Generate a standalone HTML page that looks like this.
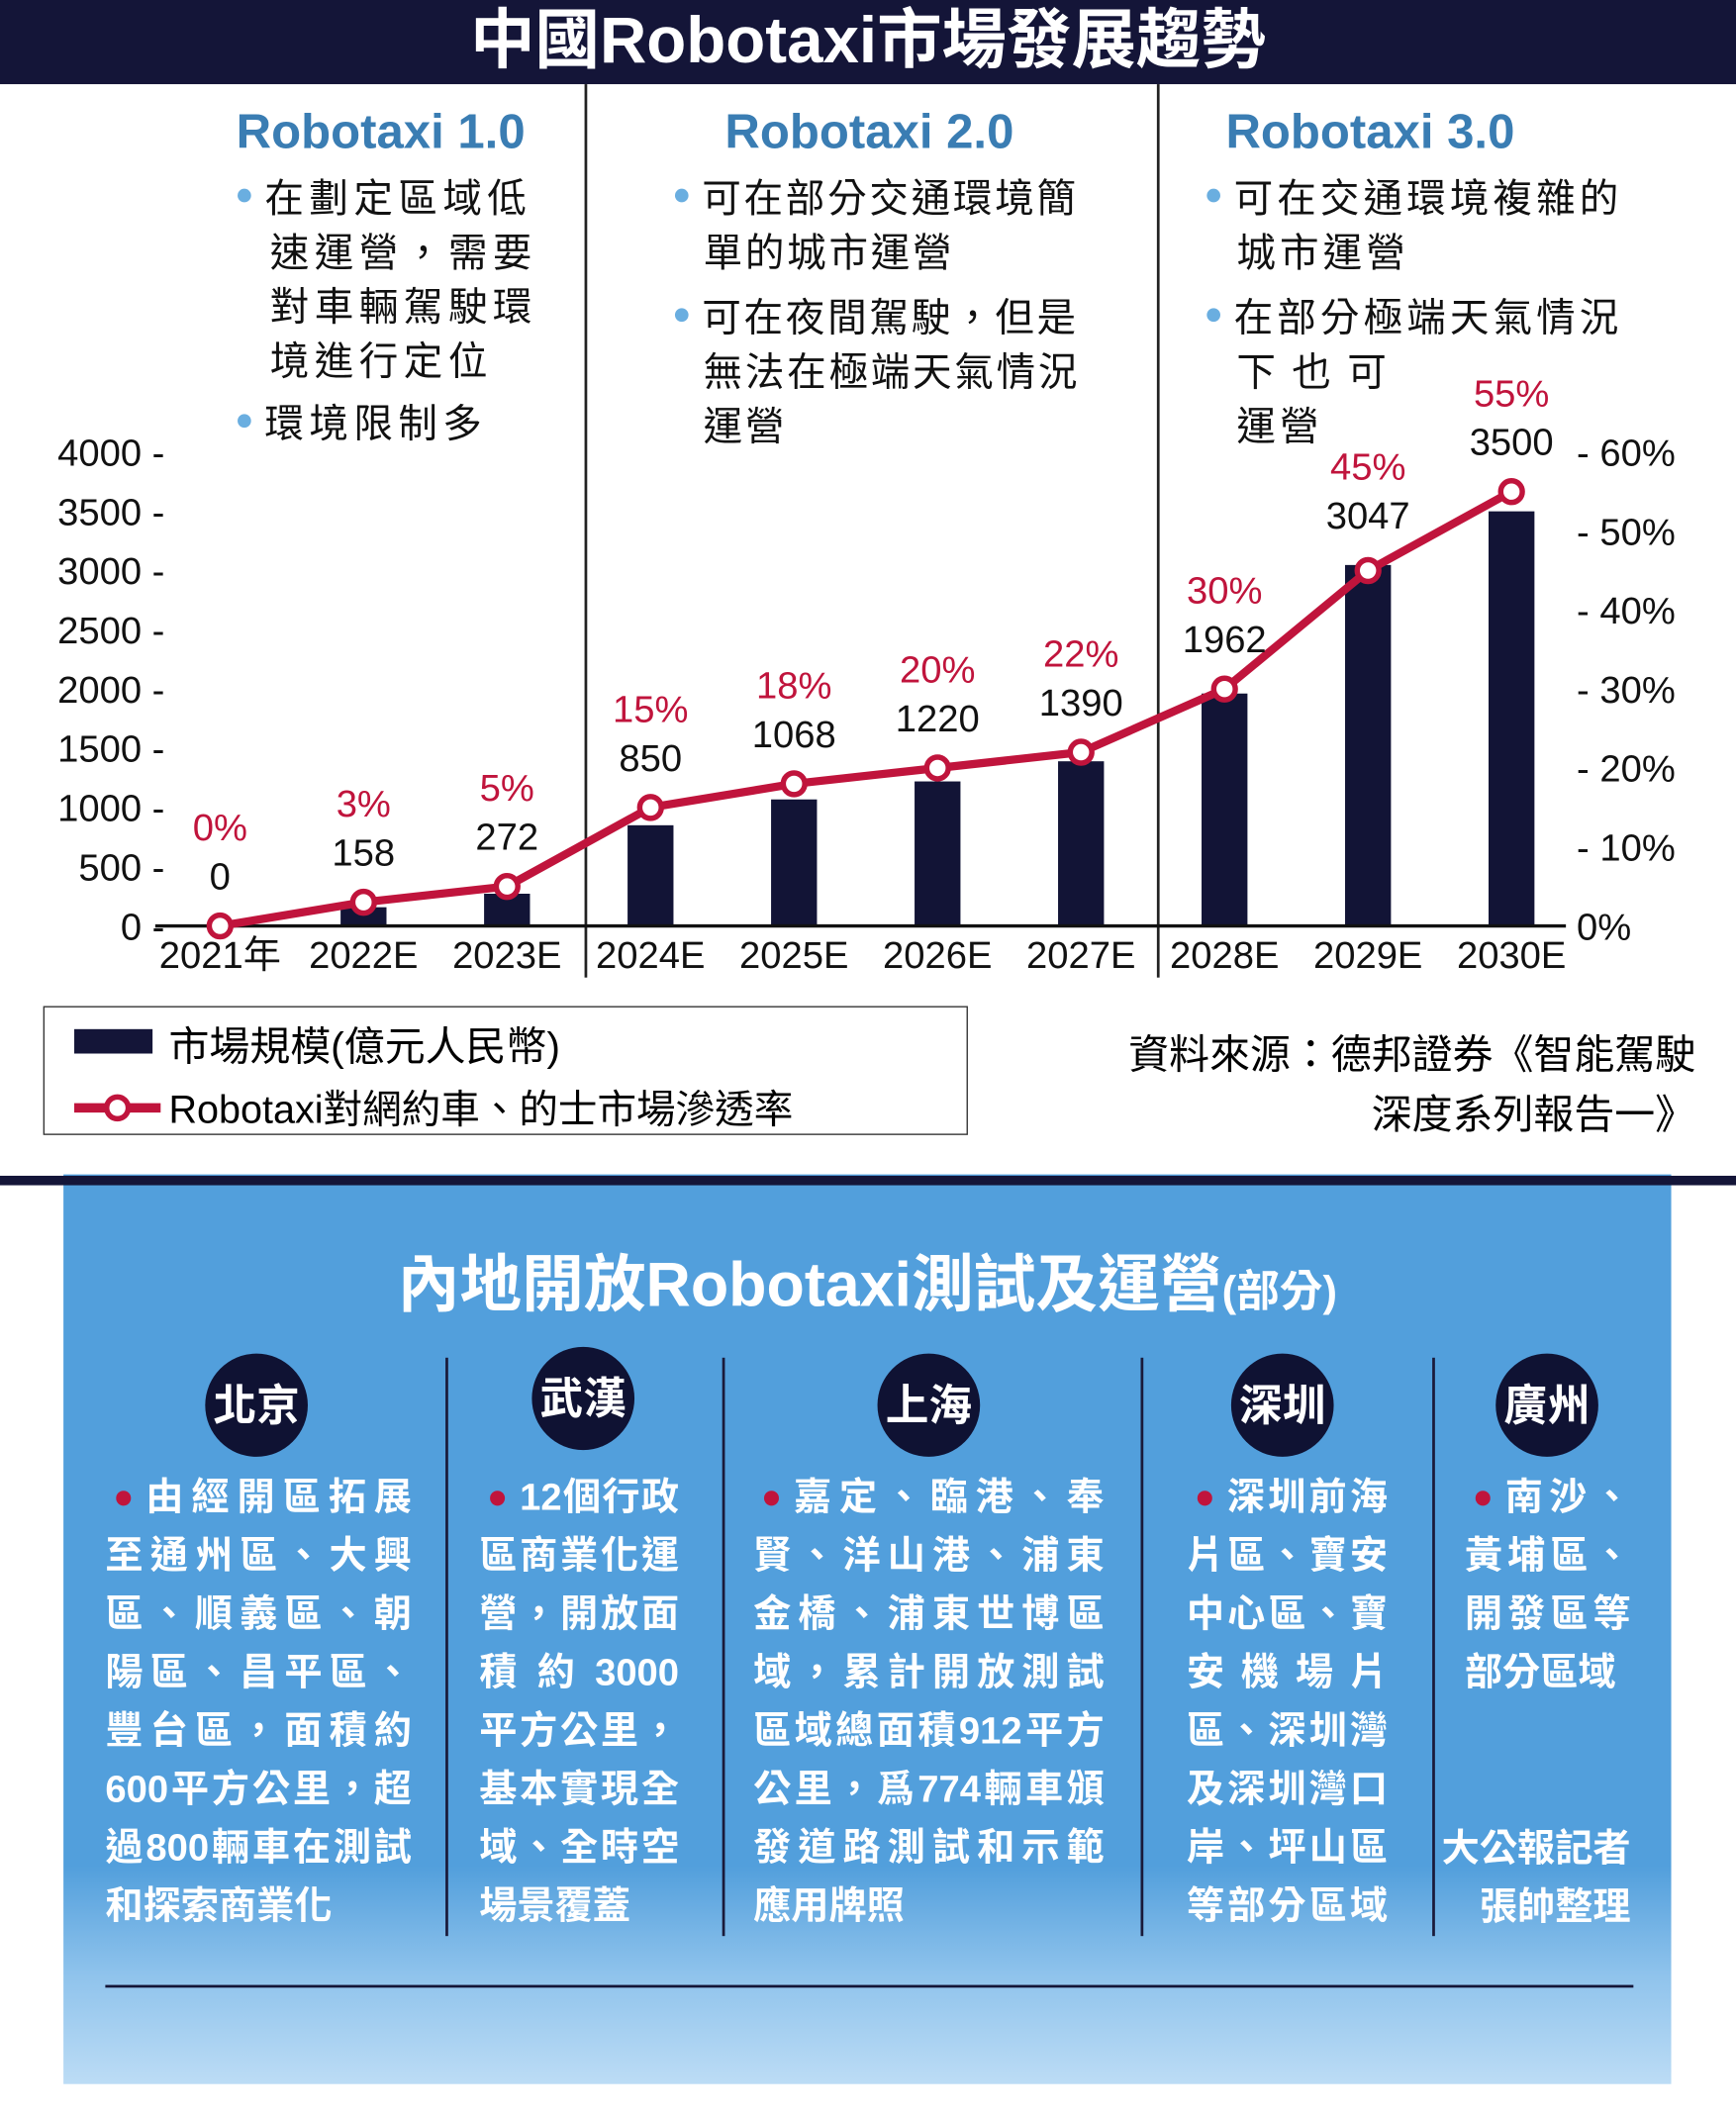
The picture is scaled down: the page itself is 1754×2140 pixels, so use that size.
<!DOCTYPE html>
<html><head><meta charset="utf-8">
<style>
html,body{margin:0;padding:0;background:#fff;}
body{width:1754px;height:2140px;overflow:hidden;position:relative;}
#wrap{position:absolute;left:0;top:0;width:1286px;height:1560px;transform-origin:0 0;transform:scale(1.36392,1.37179);font-family:"Liberation Sans","Noto Sans CJK TC",sans-serif;}
.abs{position:absolute;}
.hd{color:#3a7db3;font-weight:bold;font-size:36px;}
.bl{font-size:29px;color:#111;line-height:40px;letter-spacing:2px;white-space:nowrap;}
.dot{display:inline-block;width:10px;height:10px;border-radius:50%;background:#6aaee0;margin-right:10px;vertical-align:middle;position:relative;top:-4px;}
.ln{position:absolute;font-size:28px;font-weight:bold;color:#fff;height:43px;line-height:43px;white-space:nowrap;}
.j{text-align:justify;text-align-last:justify;}
.city{position:absolute;width:76px;height:76px;border-radius:50%;background:#0f1233;color:#fff;font-weight:bold;font-size:32px;line-height:76px;text-align:center;}
.rd{display:inline-block;width:11px;height:11px;border-radius:50%;background:#c0143c;margin-right:12px;vertical-align:middle;position:relative;top:-3px;}
</style></head><body>
<div id="wrap">
<div class="abs" style="left:0;top:0;width:1286px;height:62px;background:#141538;color:#fff;font-weight:bold;font-size:48px;line-height:62px;text-align:center;">中國Robotaxi市場發展趨勢</div>
<div class="abs" style="left:433px;top:62px;width:2px;height:658px;background:#222;"></div>
<div class="abs" style="left:857px;top:62px;width:2px;height:658px;background:#222;"></div>
<div class="abs hd" style="left:175px;top:76px;">Robotaxi 1.0</div>
<div class="abs hd" style="left:537px;top:76px;">Robotaxi 2.0</div>
<div class="abs hd" style="left:908px;top:76px;">Robotaxi 3.0</div>
<div class="abs bl" style="left:176px;top:127px;width:240px;letter-spacing:4px;">
<div><span class="dot"></span>在劃定區域低</div><div style="padding-left:24px">速運營，需要</div><div style="padding-left:24px">對車輛駕駛環</div><div style="padding-left:24px">境進行定位</div><div style="margin-top:6px"><span class="dot"></span>環境限制多</div></div>
<div class="abs bl" style="left:500px;top:127px;width:320px;">
<div><span class="dot"></span>可在部分交通環境簡</div><div style="padding-left:21px">單的城市運營</div><div style="margin-top:8px"><span class="dot"></span>可在夜間駕駛，但是</div><div style="padding-left:21px">無法在極端天氣情況</div><div style="padding-left:21px">運營</div></div>
<div class="abs bl" style="left:894px;top:127px;width:330px;letter-spacing:3px;">
<div><span class="dot"></span>可在交通環境複雜的</div><div style="padding-left:22px">城市運營</div><div style="margin-top:8px"><span class="dot"></span>在部分極端天氣情況</div><div style="padding-left:22px;letter-spacing:12px">下也可</div><div style="padding-left:22px">運營</div></div>

<svg id="chart" class="abs" style="left:0;top:0" width="1286" height="740"></svg>

<div class="abs" style="left:32px;top:741px;width:685px;height:95px;border:1.5px solid #333;box-sizing:border-box;">
<div class="abs" style="left:22px;top:16px;width:58px;height:18px;background:#141538;"></div>
<div class="abs" style="left:92px;top:4px;font-size:30px;">市場規模(億元人民幣)</div>
<svg class="abs" style="left:20px;top:60px" width="68" height="28"><line x1="2" y1="14" x2="66" y2="14" stroke="#c0143c" stroke-width="7"/><circle cx="34" cy="14" r="8" fill="#fff" stroke="#c0143c" stroke-width="4"/></svg>
<div class="abs" style="left:92px;top:52px;font-size:29px;">Robotaxi對網約車、的士市場滲透率</div>
</div>
<div class="abs" style="left:830px;top:756px;font-size:30px;line-height:44px;text-align:right;width:426px;">資料來源：德邦證券《智能駕駛<br>深度系列報告一》</div>

<div class="abs" style="left:47px;top:865px;width:1191px;height:670px;background:linear-gradient(#529fdc 0%,#529fdc 76%,#8fc3ec 88%,#bcdcf5 100%);"></div>
<div class="abs" style="left:0;top:866px;width:1286px;height:7px;background:#141538;"></div>
<div class="abs" style="left:47px;top:918px;width:1191px;text-align:center;color:#fff;font-weight:bold;font-size:46px;line-height:56px;">內地開放Robotaxi測試及運營<span style="font-size:32px">(部分)</span></div>
<div class="abs" style="left:330px;top:1000px;width:2px;height:426px;background:#1a1a3a;"></div>
<div class="abs" style="left:535px;top:1000px;width:2px;height:426px;background:#1a1a3a;"></div>
<div class="abs" style="left:845px;top:1000px;width:2px;height:426px;background:#1a1a3a;"></div>
<div class="abs" style="left:1061px;top:1000px;width:2px;height:426px;background:#1a1a3a;"></div>
<div class="abs" style="left:78px;top:1462px;width:1132px;height:2px;background:#141538;"></div>
<div class="city" style="left:152px;top:997px;">北京</div>
<div class="city" style="left:394px;top:992px;">武漢</div>
<div class="city" style="left:650px;top:997px;">上海</div>
<div class="city" style="left:912px;top:997px;">深圳</div>
<div class="city" style="left:1108px;top:997px;">廣州</div>
<div id="cols"></div>
</div>
<script>
// ---- chart data ----
const categories = ["2021年","2022E","2023E","2024E","2025E","2026E","2027E","2028E","2029E","2030E"];
const marketSize = [0,158,272,850,1068,1220,1390,1962,3047,3500];
const penetration = [0,3,5,15,18,20,22,30,45,55];
const leftTicks = [0,500,1000,1500,2000,2500,3000,3500,4000];
const rightTicks = [0,10,20,30,40,50,60];

const NS="http://www.w3.org/2000/svg";
const svg=document.getElementById('chart');
const x0=163, step=106.3, base=682, h=349;
function xs(i){return x0+i*step;}
function yL(v){return base-v*h/4000;}
function yR(p){return base-p*h/60;}
function mk(tag,attrs,txt){const e=document.createElementNS(NS,tag);for(const k in attrs)e.setAttribute(k,attrs[k]);if(txt!==undefined)e.textContent=txt;svg.appendChild(e);return e;}
const font='"Liberation Sans","Noto Sans CJK TC",sans-serif';
leftTicks.forEach(t=>{
  const e=mk('text',{x:122,y:yL(t)+10,'text-anchor':'end','font-size':28,'font-family':font,fill:'#111'},t+'  -');
  
  
});
rightTicks.forEach(t=>{
  const e=mk('text',{x:1168,y:yR(t)+10,'font-size':28,'font-family':font,fill:'#111'},(t===0?'  ':'- ')+t+'%');
  
  
});
categories.forEach((c,i)=>{
  const b=mk('rect',{x:xs(i)-17,y:yL(marketSize[i]),width:34,height:base-yL(marketSize[i]),fill:'#121436'});
  
  
  const t=mk('text',{x:xs(i),y:713,'text-anchor':'middle','font-size':28,'font-family':font,fill:'#111'},c);
  
  
});
const ax=mk('line',{x1:115,y1:base,x2:1160,y2:base,stroke:'#111','stroke-width':2.5});


const pl=mk('polyline',{points:penetration.map((p,i)=>xs(i)+','+yR(p)).join(' '),fill:'none',stroke:'#c0143c','stroke-width':6,'stroke-linejoin':'round'});


penetration.forEach((p,i)=>{
  const c=mk('circle',{cx:xs(i),cy:yR(p),r:8,fill:'#fff',stroke:'#c0143c','stroke-width':4});
  
  
  const top=Math.min(yL(marketSize[i]),yR(p));
  const v=mk('text',{x:xs(i),y:top-27,'text-anchor':'middle','font-size':28,'font-family':font,fill:'#111'},String(marketSize[i]));
  
  
  const q=mk('text',{x:xs(i),y:top-63,'text-anchor':'middle','font-size':28,'font-family':font,fill:'#c0143c'},p+'%');
  
  
});

// ---- panel column text ----
const colsDef=[
 {x:78,w:227,lines:["•由經開區拓展","至通州區、大興","區、順義區、朝","陽區、昌平區、","豐台區，面積約","600平方公里，超","過800輛車在測試","和探索商業化"],lastLeft:true},
 {x:355,w:148,lines:["•12個行政","區商業化運","營，開放面","積 約 3000","平方公里，","基本實現全","域、全時空","場景覆蓋"],lastLeft:true},
 {x:558,w:260,lines:["•嘉定、臨港、奉","賢、洋山港、浦東","金橋、浦東世博區","域，累計開放測試","區域總面積912平方","公里，爲774輛車頒","發道路測試和示範","應用牌照"],lastLeft:true},
 {x:879,w:149,lines:["•深圳前海","片區、寶安","中心區、寶","安機場片","區、深圳灣","及深圳灣口","岸、坪山區","等部分區域"],lastLeft:false},
 {x:1085,w:123,lines:["•南沙、","黃埔區、","開發區等","部分區域"],lastLeft:true}
];
const cols=document.getElementById('cols');
colsDef.forEach((c,ci)=>{
  c.lines.forEach((l,li)=>{
    const d=document.createElement('div');
    
    
    d.className='ln'+((li===c.lines.length-1&&c.lastLeft)?'':' j');
    d.style.left=c.x+'px';d.style.top=(1081+li*43)+'px';d.style.width=c.w+'px';
    if(l[0]==='•'){d.style.paddingLeft='30px';d.style.width=(c.w-30)+'px';d.innerHTML='<span class="rd" style="position:absolute;left:8px;top:17px;margin:0"></span>'+l.slice(1);}
    else d.textContent=l;
    cols.appendChild(d);
  });
});
const cr=document.createElement('div');


cr.className='ln';cr.style.left='1062px';cr.style.top='1340px';cr.style.textAlign='right';cr.style.width='146px';cr.style.lineHeight='43px';cr.style.height='86px';
cr.innerHTML='大公報記者<br>張帥整理';
cols.appendChild(cr);
</script>
</body></html>
